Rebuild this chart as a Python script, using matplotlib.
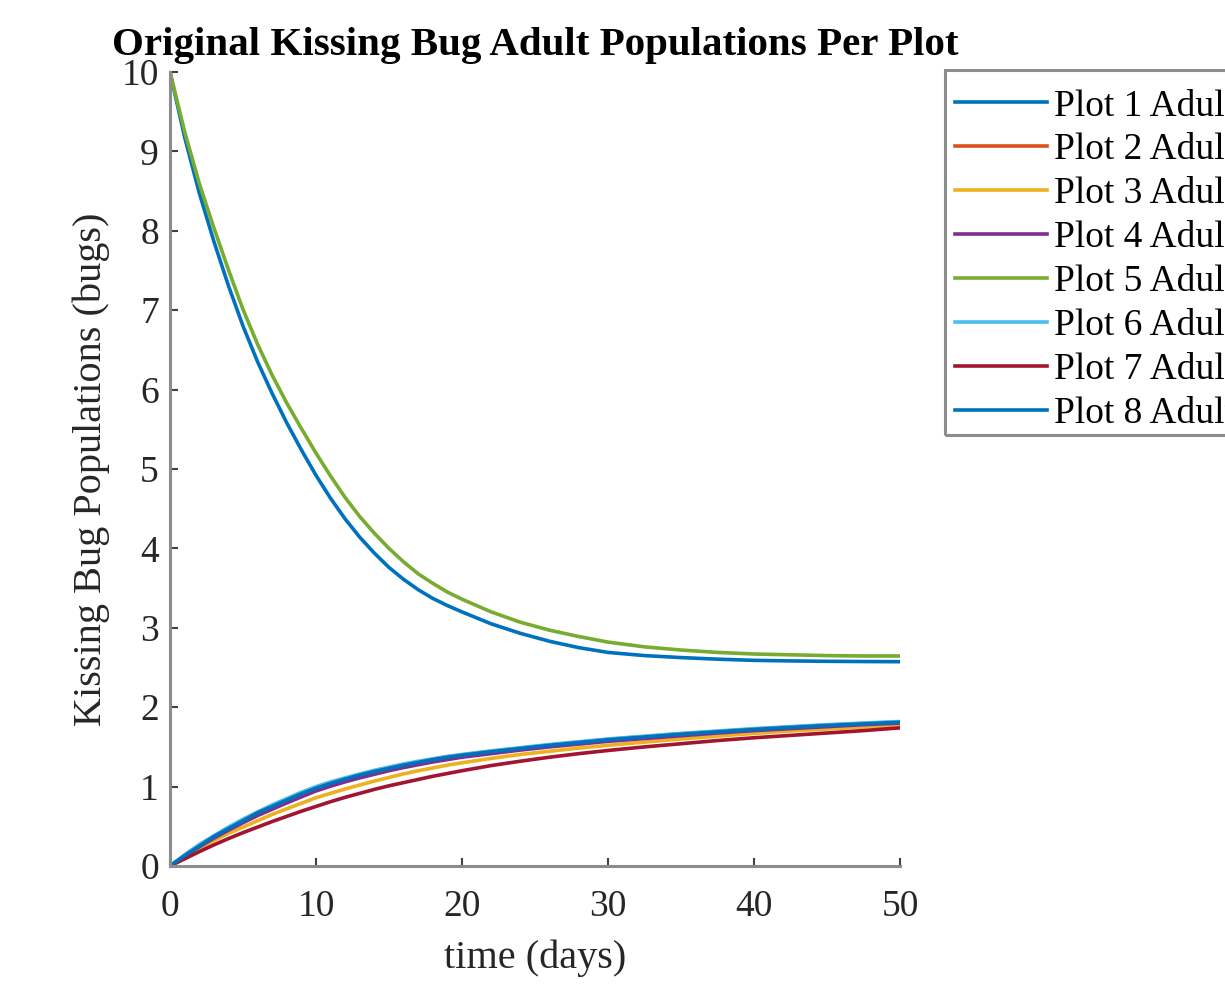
import numpy as np
import matplotlib
matplotlib.use("Agg")
import matplotlib.pyplot as plt
from matplotlib.patches import Rectangle

plt.rcParams['font.family'] = ['Liberation Serif', 'DejaVu Serif']

# tiempo (dias)
t = [0, 1, 2, 3, 4, 5, 6, 7, 8, 9, 10, 11, 12, 13, 14, 15, 16, 17, 18, 19, 20,
     22, 24, 26, 28, 30, 32.5, 35, 37.5, 40, 42.5, 45, 47.5, 50]

# poblaciones de adultos
plot1 = [10, 9.18, 8.48, 7.87, 7.31, 6.80, 6.35, 5.95, 5.58, 5.24, 4.92,
         4.63, 4.37, 4.14, 3.94, 3.76, 3.61, 3.48, 3.37, 3.28, 3.20,
         3.05, 2.93, 2.83, 2.75, 2.69, 2.65, 2.625, 2.605, 2.59, 2.583, 2.578, 2.575, 2.573]
plot2 = [0, 0.135, 0.26, 0.375, 0.48, 0.58, 0.675, 0.76, 0.84, 0.92, 0.99,
         1.05, 1.10, 1.15, 1.20, 1.24, 1.28, 1.31, 1.345, 1.375, 1.40,
         1.445, 1.485, 1.525, 1.56, 1.595, 1.63, 1.665, 1.695, 1.725, 1.75, 1.775, 1.795, 1.815]
plot3 = [0, 0.11, 0.22, 0.32, 0.41, 0.49, 0.57, 0.65, 0.72, 0.79, 0.86,
         0.915, 0.97, 1.02, 1.07, 1.115, 1.16, 1.20, 1.235, 1.27, 1.30,
         1.355, 1.405, 1.445, 1.485, 1.52, 1.56, 1.60, 1.635, 1.67, 1.70, 1.725, 1.75, 1.77]
plot4 = [0, 0.125, 0.24, 0.35, 0.45, 0.545, 0.635, 0.715, 0.795, 0.87, 0.945,
         1.005, 1.06, 1.11, 1.155, 1.20, 1.24, 1.275, 1.31, 1.34, 1.37,
         1.415, 1.46, 1.50, 1.535, 1.57, 1.605, 1.64, 1.675, 1.705, 1.73, 1.755, 1.78, 1.80]
plot5 = [10, 9.25, 8.60, 8.04, 7.51, 7.01, 6.57, 6.18, 5.83, 5.51, 5.20,
         4.91, 4.64, 4.40, 4.19, 4.00, 3.83, 3.68, 3.56, 3.45, 3.36,
         3.20, 3.07, 2.97, 2.89, 2.82, 2.76, 2.72, 2.69, 2.67, 2.66, 2.65, 2.645, 2.645]
plot6 = [0, 0.14, 0.27, 0.38, 0.49, 0.59, 0.68, 0.77, 0.85, 0.93, 1.00,
         1.06, 1.11, 1.16, 1.205, 1.245, 1.285, 1.32, 1.35, 1.38, 1.405,
         1.45, 1.49, 1.53, 1.565, 1.60, 1.635, 1.67, 1.70, 1.73, 1.755, 1.78, 1.80, 1.82]
plot7 = [0, 0.09, 0.18, 0.265, 0.345, 0.42, 0.49, 0.56, 0.625, 0.69, 0.75,
         0.81, 0.865, 0.915, 0.965, 1.01, 1.05, 1.09, 1.13, 1.165, 1.20,
         1.265, 1.32, 1.37, 1.415, 1.455, 1.50, 1.54, 1.58, 1.615, 1.645, 1.675, 1.705, 1.74]
plot8 = [0, 0.13, 0.25, 0.37, 0.47, 0.57, 0.67, 0.75, 0.83, 0.91, 0.98,
         1.04, 1.095, 1.145, 1.19, 1.23, 1.27, 1.305, 1.34, 1.37, 1.395,
         1.44, 1.48, 1.52, 1.555, 1.59, 1.625, 1.66, 1.69, 1.72, 1.745, 1.77, 1.79, 1.81]

series = [plot1, plot2, plot3, plot4, plot5, plot6, plot7, plot8]
labels = [f"Plot {i} Adults" for i in range(1, 9)]
# colores por defecto de MATLAB
colors = ['#0072BD', '#D95319', '#EDB120', '#7E2F8E',
          '#77AC30', '#4DBEEE', '#A2142F', '#0072BD']

fig = plt.figure(figsize=(12.25, 9.92), dpi=100)
ax = fig.add_axes([170/1225, 1-866/992, 730/1225, 794/992])

for y, c, lab in zip(series, colors, labels):
    ax.plot(t, y, color=c, lw=2.6, label=lab, solid_joinstyle='round')

ax.set_xlim(0, 50)
ax.set_ylim(0, 10)
ax.set_xticks(range(0, 51, 10))
ax.set_yticks(range(0, 11))

for s in ['top', 'right']:
    ax.spines[s].set_visible(False)
for s in ['left', 'bottom']:
    ax.spines[s].set_color('#8c8c8c')
    ax.spines[s].set_linewidth(2.2)
ax.tick_params(direction='in', length=6, width=1.5, color='#404040',
               labelsize=27, labelcolor='#262626')
ax.tick_params(axis='x', pad=17)
ax.tick_params(axis='y', pad=8)

ax.set_xlabel("time (days)", fontsize=29, color='#262626', labelpad=11)
ax.set_ylabel("Kissing Bug Populations (bugs)", fontsize=29, color='#262626', labelpad=8)
ax.set_title("Original Kissing Bug Adult Populations Per Plot",
             fontsize=29.5, fontweight='bold', pad=12)

# leyenda fuera del eje, cortada por el borde derecho como en el original
leg = fig.legend(loc='upper left', bbox_to_anchor=(955/1225, 1-89/992),
                 fontsize=27, handlelength=2.45, handletextpad=0.2,
                 labelspacing=0.25, borderaxespad=0, frameon=False,
                 borderpad=0)
for line in leg.get_lines():
    line.set_linewidth(2.6)
# marco de la leyenda
fig.patches.append(Rectangle((945/1225, 1-435/992), 300/1225, 365/992,
                             transform=fig.transFigure, fill=False,
                             ec='#8c8c8c', lw=2.2))

fig.savefig("out.png", dpi=100)
